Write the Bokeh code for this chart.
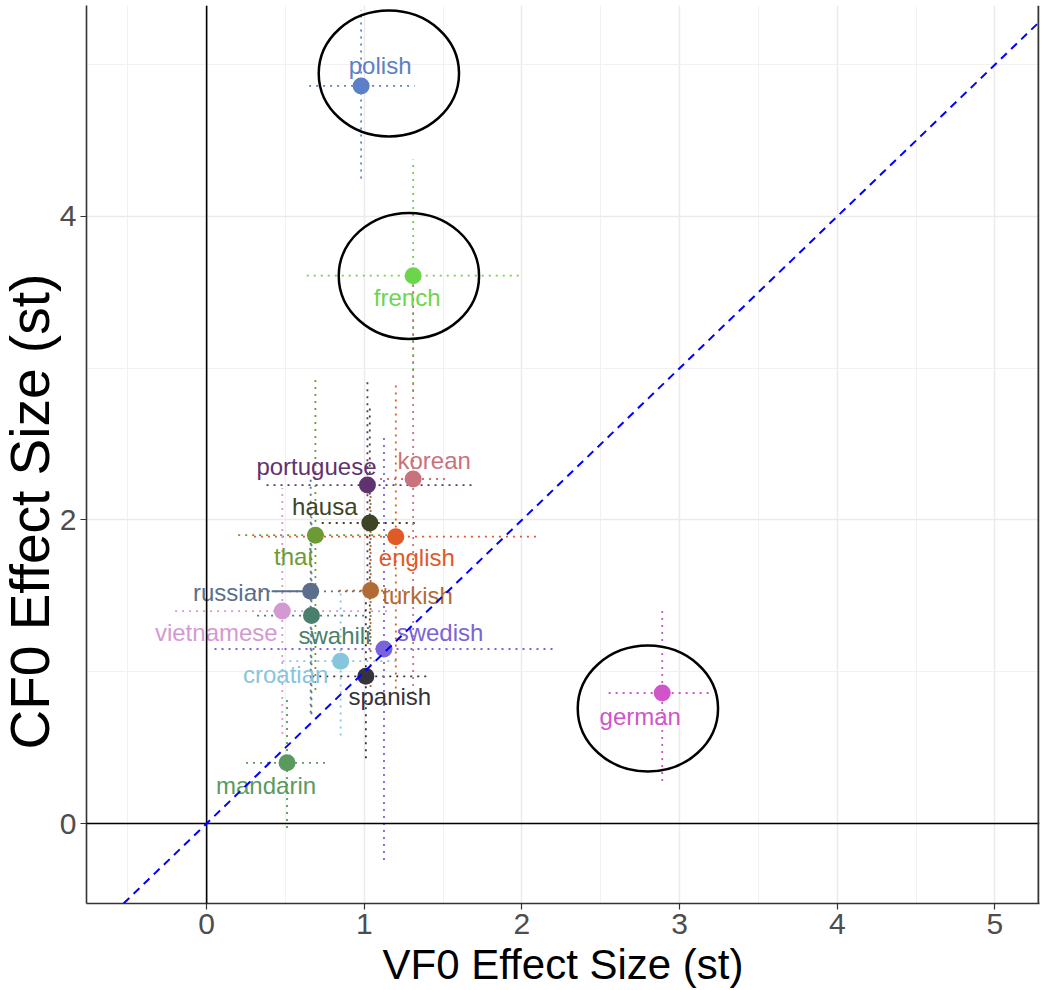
import math
from bokeh.plotting import figure
from bokeh.models import (ColumnDataSource, Range1d, SingleIntervalTicker, Span, Slope, Title)
from bokeh.core.properties import value
from bokeh.embed import file_html
from bokeh.resources import INLINE

# ---- data ----
languages = ["polish", "french", "portuguese", "korean", "hausa", "thai", "english",
             "russian", "turkish", "vietnamese", "swahili", "swedish", "croatian",
             "spanish", "german", "mandarin"]
vf0 = [0.98, 1.31, 1.02, 1.31, 1.035, 0.69, 1.20, 0.66, 1.04, 0.48, 0.665, 1.125, 0.85, 1.01, 2.89, 0.51]
cf0 = [4.86, 3.61, 2.23, 2.27, 1.98, 1.90, 1.89, 1.53, 1.535, 1.40, 1.37, 1.15, 1.07, 0.97, 0.86, 0.40]
vf0_lo = [0.65, 0.635, 0.38, 1.10, 0.73, 0.20, 0.30, 0.30, 0.84, -0.20, 0.32, 0.05, 0.48, 0.67, 2.55, 0.25]
vf0_hi = [1.32, 1.99, 1.68, 1.52, 1.35, 1.19, 2.11, 1.02, 1.25, 1.17, 1.03, 2.21, 1.21, 1.42, 3.21, 0.77]
cf0_lo = [4.25, 2.85, 1.51, 0.86, 1.20, 0.88, 0.89, 0.73, 0.90, 0.59, 0.72, -0.24, 0.58, 0.43, 0.28, -0.03]
cf0_hi = [5.36, 4.375, 2.94, 3.64, 2.75, 2.93, 2.91, 2.27, 2.17, 2.21, 2.02, 2.56, 1.52, 1.51, 1.43, 0.83]
colors = ["#5B7FC8", "#6CD64B", "#5F3270", "#C8737C", "#3D4526", "#6E9A34", "#E05A27",
          "#5A6F8E", "#B26B35", "#D39AD2", "#4B7F6D", "#7B63D9", "#87C5DD", "#35323B",
          "#CF55C9", "#5A9A5E"]
# label placement (screen px offsets from each point, like ggrepel)
label_dx = [19, -6, -51, 21, -45, -22, 21, -79, 47, -66, 23, 56, -55, 24, -22, -21]
label_dy = [-20, 22, -19, -19, -17, 21, 21, 1, 5, 21, 20, -16, 13, 20, 23, 23]
# highlighted languages (circled)
hl_x = [1.156, 1.283, 2.799]
hl_y = [4.942, 3.608, 0.758]

FONT = "Liberation Sans"

src = ColumnDataSource(dict(lang=languages, x=vf0, y=cf0, xlo=vf0_lo, xhi=vf0_hi,
                            ylo=cf0_lo, yhi=cf0_hi, color=colors, dx=label_dx, dy=label_dy))

p = figure(width=1043, height=990, output_backend="svg", toolbar_location=None,
           x_range=Range1d(-0.762, 5.283), y_range=Range1d(-0.527, 5.39),
           min_border_left=0, min_border_right=4, min_border_top=5, min_border_bottom=87)
p.outline_line_color = None
p.background_fill_color = "white"

# axes
p.xaxis.ticker = SingleIntervalTicker(interval=1, num_minor_ticks=2)
p.yaxis.ticker = SingleIntervalTicker(interval=2, num_minor_ticks=2)
for ax in (p.xaxis[0], p.yaxis[0]):
    ax.axis_line_color = "#333333"
    ax.axis_line_width = 1.6
    ax.major_tick_line_color = "#333333"
    ax.major_tick_line_width = 1.2
    ax.major_tick_out = 6
    ax.major_tick_in = 0
    ax.minor_tick_line_color = None
    ax.major_label_text_font = FONT
    ax.major_label_text_font_size = "30px"
    ax.major_label_text_color = "#4D4D4D"
    ax.major_label_standoff = 4
p.xaxis.axis_label = "VF0 Effect Size (st)"
p.xaxis.axis_label_text_font = FONT
p.xaxis.axis_label_text_font_size = "42px"
p.xaxis.axis_label_text_font_style = "normal"
p.xaxis.axis_label_text_color = "black"
p.xaxis.axis_label_standoff = 4

# y axis title (as a side title so it can sit a little below centre, like the original)
p.add_layout(Title(text="CF0 Effect Size (st)", align="left", offset=154,
                   text_font=FONT, text_font_size="55px", text_font_style="normal",
                   text_color="black", standoff=-8), "left")

# grid
for g in (p.xgrid[0], p.ygrid[0]):
    g.grid_line_color = "#EBEBEB"
    g.grid_line_width = 1.5
    g.minor_grid_line_color = "#EFEFEF"
    g.minor_grid_line_width = 0.9

# reference lines
p.add_layout(Span(location=0, dimension="height", line_color="black", line_width=1.6))
p.add_layout(Span(location=0, dimension="width", line_color="black", line_width=1.6))
p.add_layout(Span(location=5.283 - 1.0 / 157.5, dimension="height", line_color="#333333", line_width=2))
p.add_layout(Slope(gradient=1, y_intercept=0, line_color="blue", line_width=2, line_dash="8 6"))

# error bars
p.segment(x0="xlo", x1="xhi", y0="y", y1="y", source=src, line_color="color",
          line_width=1.8, line_dash="2 5")
p.segment(x0="x", x1="x", y0="ylo", y1="yhi", source=src, line_color="color",
          line_width=1.8, line_dash="2 5")

# russian label connector
ri = languages.index("russian")
p.segment(x0=[vf0[ri] - 39 / 157.5], x1=[vf0[ri]], y0=[cf0[ri]], y1=[cf0[ri]],
          line_color=colors[ri], line_width=2)

# points
p.scatter(x="x", y="y", source=src, size=17, fill_color="color", line_color=None)

# labels
p.text(x="x", y="y", text="lang", source=src, x_offset="dx", y_offset="dy",
       text_color="color", text_font=value(FONT), text_font_size="24px",
       text_align="center", text_baseline="middle")

# circles
p.ellipse(x=hl_x, y=hl_y, width=0.89, height=0.83, fill_color=None,
          line_color="black", line_width=2.5)

open("out.html", "w").write(file_html(p, INLINE))
